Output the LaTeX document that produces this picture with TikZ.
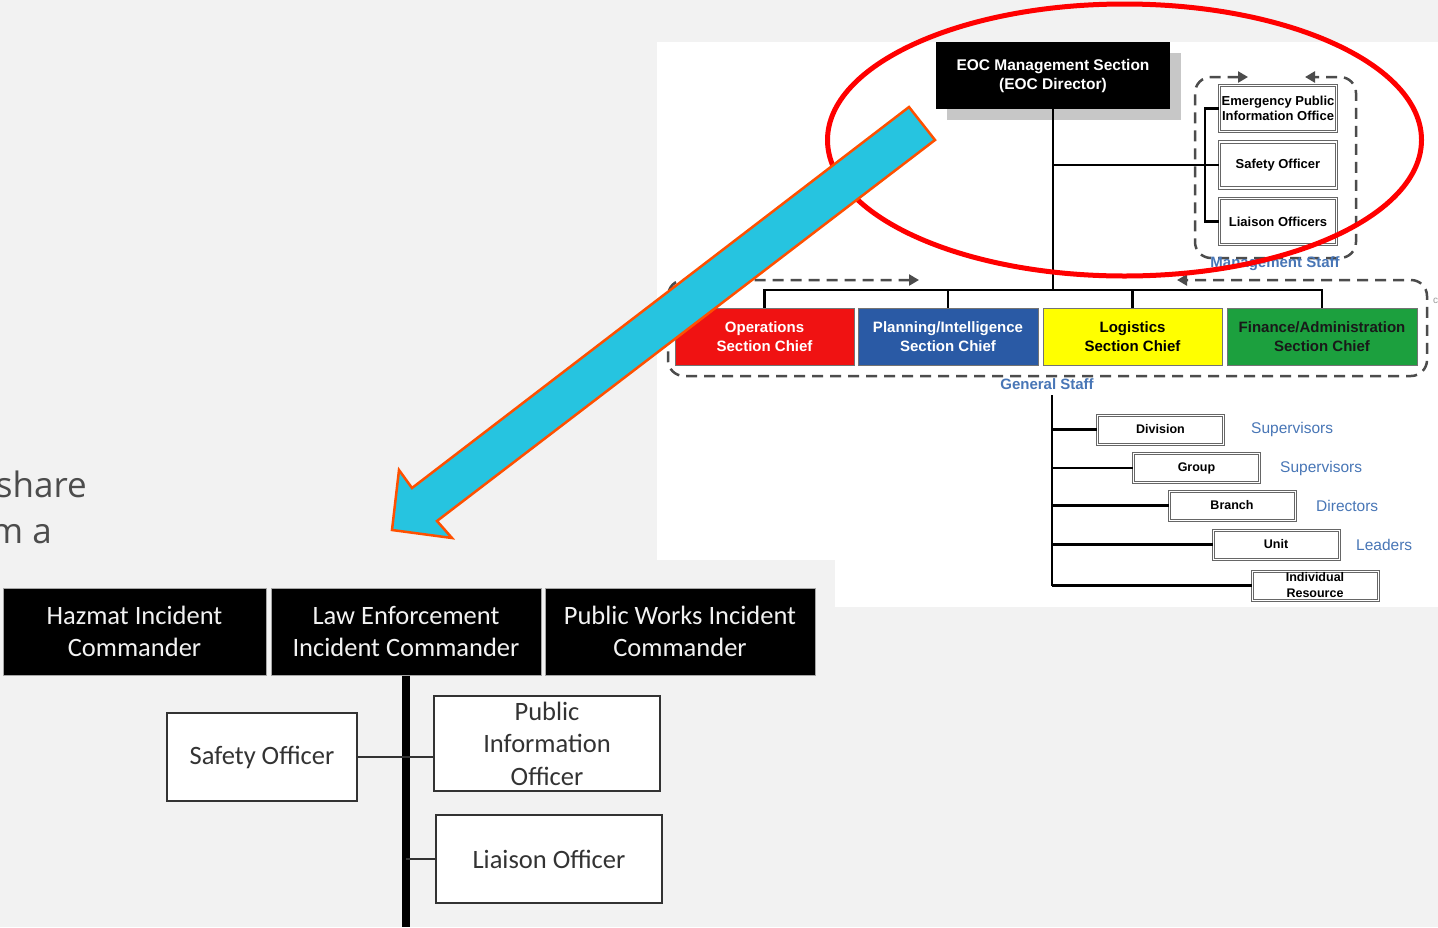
\documentclass[tikz,border=0pt]{standalone}
\usepackage{fontspec}
\newfontfamily\arialf{Liberation Sans}
\newfontfamily\calf{Carlito}
\newfontfamily\openf{Open Sans}
\usetikzlibrary{arrows.meta,shadows}
\definecolor{slidebg}{RGB}{242,242,242}
\definecolor{opsred}{RGB}{240,18,18}
\definecolor{planblue}{RGB}{42,90,165}
\definecolor{logyellow}{RGB}{255,255,0}
\definecolor{fingreen}{RGB}{28,160,62}
\definecolor{staffblue}{RGB}{72,118,182}
\definecolor{arrowcyan}{RGB}{38,196,224}
\definecolor{arroworange}{RGB}{255,80,0}
\tikzset{
  eocbox/.style={fill=black, text=white, minimum width=234pt, minimum height=67pt,
    align=center, inner sep=0pt, font=\arialf\bfseries\fontsize{15.5}{19}\selectfont,
    drop shadow={shadow xshift=11pt, shadow yshift=-11pt, fill=black!22, opacity=1}},
  staffbox/.style={draw=black!60, double=white, double distance=1.3pt, line width=1.1pt,
    fill=white, minimum width=117pt, minimum height=46pt, align=center, inner sep=0pt,
    font=\arialf\bfseries\fontsize{13}{15.5}\selectfont},
  chiefbox/.style={draw=black!55, line width=1pt, minimum height=57pt, align=center,
    inner sep=0pt, font=\arialf\bfseries\fontsize{15}{19}\selectfont},
  tierbox/.style={draw=black!60, double=white, double distance=1pt, line width=1pt,
    fill=white, minimum width=126pt, minimum height=29pt, align=center, inner sep=0pt,
    font=\arialf\bfseries\fontsize{12.5}{16}\selectfont},
  tierlabel/.style={anchor=west, inner sep=0pt, text=staffblue,
    font=\arialf\fontsize{15.5}{18}\selectfont},
  stafflabel/.style={inner sep=0pt, text=staffblue, font=\arialf\bfseries\fontsize{15}{18}\selectfont},
  orgline/.style={line width=2.5pt, black},
  staffdash/.style={draw=black!70, line width=2.5pt, dash pattern=on 11pt off 7pt,
    rounded corners=16pt, {Triangle[length=10pt,width=11pt]}-{Triangle[length=10pt,width=11pt]}},
  cmdbox/.style={fill=black, draw=black!35, line width=1pt, text=black!5, minimum height=87pt,
    align=center, inner sep=0pt, font=\calf\fontsize{26.5}{32}\selectfont},
  officebox/.style={fill=white, draw=black!80, line width=1.6pt, text=black!80,
    align=center, inner sep=0pt, font=\calf\fontsize{26.5}{32.5}\selectfont},
  officeline/.style={line width=1.5pt, black!80},
  bigarrow/.style={fill=arrowcyan, draw=arroworange, line width=2.5pt, line join=miter},
}
\begin{document}
\begin{tikzpicture}[x=1pt,y=-1pt]
  % slide and pasted pictures
  \useasboundingbox (0,0) rectangle (1438,927);
  \fill[slidebg] (0,0) rectangle (1438,927);
  \fill[white] (657,42) rectangle (1438,607);
  \fill[slidebg] (0,560) rectangle (835,927);

  % EOC chart
  \node[eocbox] (eoc) at (1053,75.5) {EOC Management Section\\(EOC Director)};
  \node[staffbox] (epio) at (1278,108.5) {Emergency Public\\Information Office};
  \node[staffbox] (so2) at (1278,165) {Safety Officer};
  \node[staffbox] (lo2) at (1278,221.5) {Liaison Officers};
  \coordinate (bus) at (1053,290);
  \draw[orgline] (eoc.south) -- (bus);
  \draw[orgline] (eoc.south |- so2.west) -- (so2.west);
  \draw[orgline] (epio.west) -- ++(-14,0) |- (lo2.west);
  \draw[staffdash] (1248,77) -- (1195,77) -- (1195,258) -- (1356,258) -- (1356,77) -- (1305,77);
  \node[stafflabel] (mslbl) at (1275,264) {Management Staff};

  \node[chiefbox, fill=opsred, text=white, minimum width=179pt] (ops) at (764.5,336.5) {Operations\\Section Chief};
  \node[chiefbox, fill=planblue, text=white, minimum width=180pt] (plan) at (948,336.5) {Planning/Intelligence\\Section Chief};
  \node[chiefbox, fill=logyellow, text=black, minimum width=179pt] (logi) at (1132.5,336.5) {Logistics\\Section Chief};
  \node[chiefbox, fill=fingreen, text=black!90, minimum width=190pt] (fin) at (1322,336.5) {Finance/Administration\\Section Chief};
  \draw[orgline] (ops.north) |- (bus) -| (fin.north);
  \draw[orgline] (plan.north) -- (plan.north |- bus);
  \draw[orgline] (logi.north) -- (logi.north |- bus);
  \draw[staffdash] (919,280) -- (668,280) -- (668,376) -- (1427,376) -- (1427,280) -- (1177,280);
  \node[stafflabel] (gslbl) at (1047,384) {General Staff};
  \node[anchor=west, inner sep=0pt, text=black!40, font=\arialf\fontsize{10}{10}\selectfont] (edgec) at (1433,301) {c};

  \coordinate (trunk) at (1052,395);
  \foreach \name/\x/\y/\txt in {div/1160.5/429.5/Division, grp/1196.5/468/Group,
      br/1232/505.5/Branch, unit/1276/544.5/Unit, ind/1315/585.5/{Individual\\Resource}} {
    \node[tierbox] (\name) at (\x,\y) {\txt};
    \draw[orgline] (trunk |- \name.west) -- (\name.west);
  }
  \draw[orgline] (trunk) -- (trunk |- ind.west);
  \foreach \name/\x/\txt in {div/1251/Supervisors, grp/1280/Supervisors, br/1316/Directors, unit/1356/Leaders} {
    \node[tierlabel] (lbl\name) at (\x,0 |- \name.west) {\txt};
  }

  % incident command boxes
  \node[cmdbox, minimum width=263pt] (haz) at (134.5,631.5) {Hazmat Incident\\Commander};
  \node[cmdbox, minimum width=270pt] (law) at (406,631.5) {Law Enforcement\\Incident Commander};
  \node[cmdbox, minimum width=270pt] (pw) at (680,631.5) {Public Works Incident\\Commander};
  \coordinate (lawfoot) at (407,927);
  \draw[line width=8pt] (law.south) -- (law.south |- lawfoot);
  \node[officebox, minimum width=190pt, minimum height=88pt] (safety) at (262,757) {Safety Officer};
  \node[officebox, minimum width=226pt, minimum height=95pt] (pio) at (547,743.5) {Public\\Information\\Officer};
  \node[officebox, minimum width=226pt, minimum height=88pt] (liaison) at (549,859) {Liaison Officer};
  \draw[officeline] (safety.east) -- (safety.east -| pio.west);
  \draw[officeline] (liaison.west) -- (liaison.west -| law.south);

  % highlight
  \draw[red, line width=5pt] (1124.5,140) ellipse [x radius=297, y radius=136];
  \draw[bigarrow] (909,107) -- (412,488) -- (399,470) -- (392,530) -- (452,538) -- (437,521) -- (935,140) -- cycle;

  \node[anchor=base east, inner sep=0pt, text=black!70, font=\openf\fontsize{35}{46}\selectfont] (share) at (87,497) {share};
  \node[anchor=base east, inner sep=0pt, text=black!70, font=\openf\fontsize{35}{46}\selectfont] (ma) at (52,543) {m a};
\end{tikzpicture}
\end{document}
